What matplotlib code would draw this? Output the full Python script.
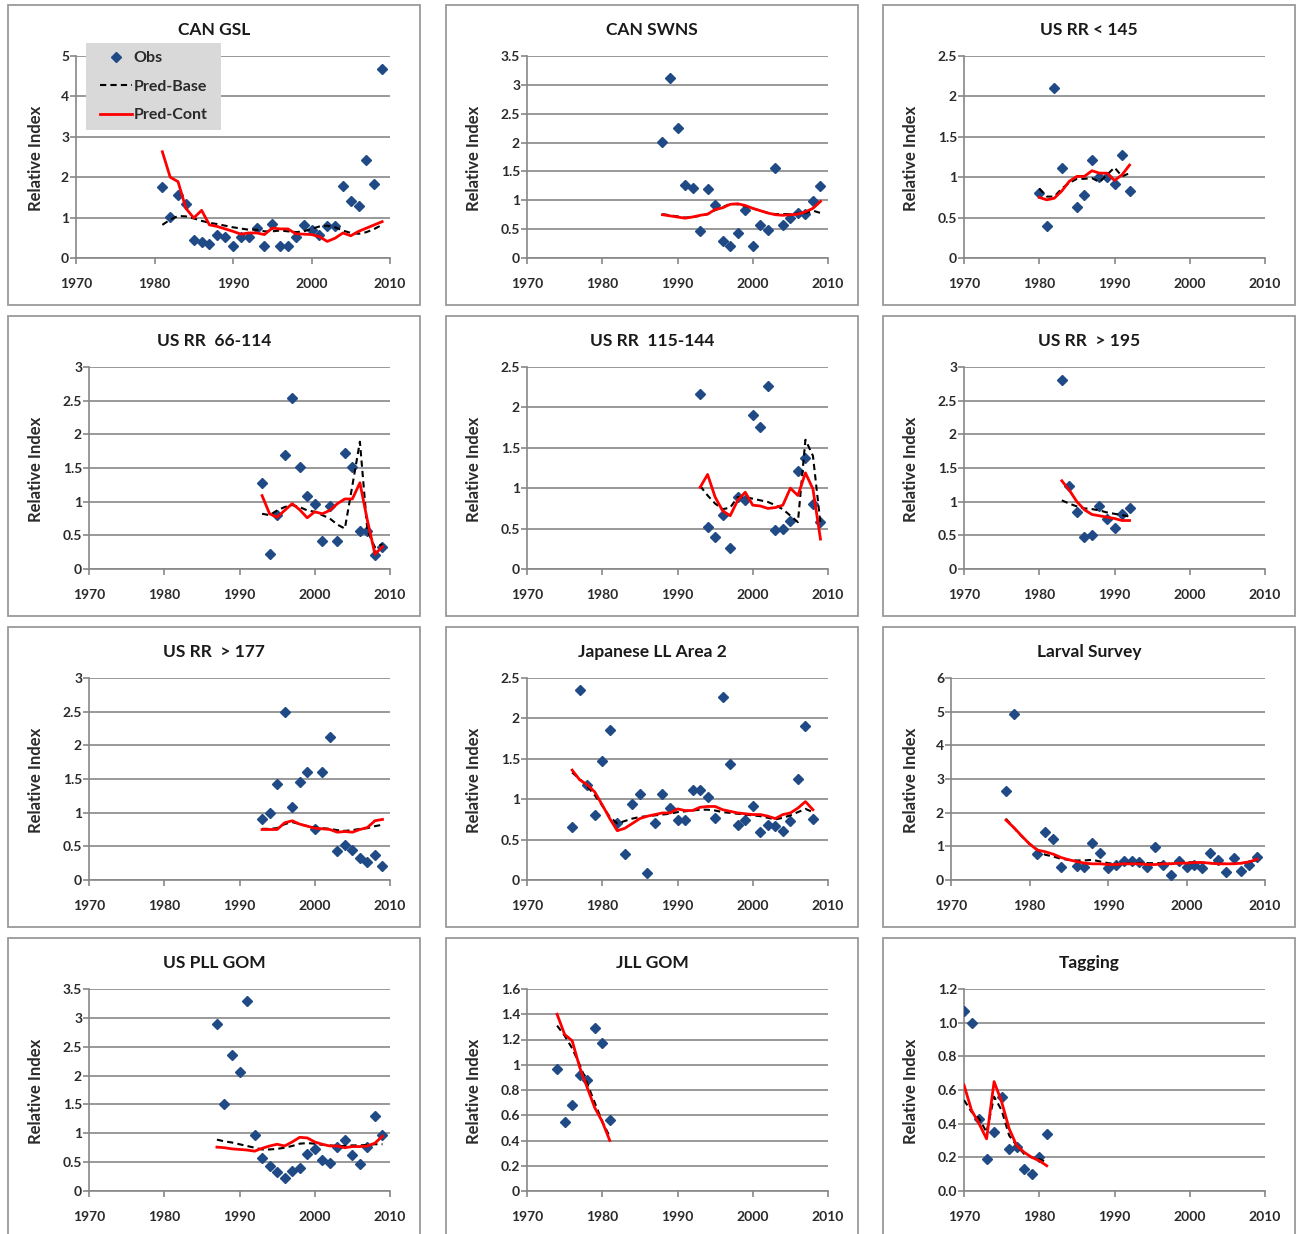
import numpy as np
import matplotlib
matplotlib.use("Agg")
import matplotlib.pyplot as plt
from matplotlib.patches import Rectangle
from matplotlib.lines import Line2D

plt.rcParams['font.family'] = ['Lato', 'DejaVu Sans']

# ---------------- data ----------------
gsl_years = list(range(1981, 2010))
gsl_obs = [1.76, 1.01, 1.55, 1.33, 0.45, 0.39, 0.35, 0.58, 0.53, 0.29, 0.53, 0.53, 0.74, 0.29, 0.85,
           0.29, 0.29, 0.51, 0.82, 0.70, 0.58, 0.78, 0.78, 1.77, 1.42, 1.29, 2.43, 1.83, 4.67]
gsl_base = [0.82, 0.95, 1.04, 1.03, 0.98, 0.92, 0.87, 0.84, 0.80, 0.76, 0.73, 0.70, 0.70, 0.66, 0.66,
            0.68, 0.66, 0.64, 0.66, 0.72, 0.78, 0.80, 0.76, 0.68, 0.62, 0.60, 0.64, 0.72, 0.82]
gsl_cont = [2.63, 2.00, 1.89, 1.23, 0.99, 1.18, 0.82, 0.78, 0.72, 0.66, 0.59, 0.62, 0.62, 0.58, 0.74,
            0.72, 0.72, 0.60, 0.59, 0.58, 0.53, 0.41, 0.49, 0.62, 0.55, 0.66, 0.74, 0.82, 0.90]

swns_years = list(range(1988, 2010))
swns_obs = [2.01, 3.12, 2.26, 1.27, 1.21, 0.47, 1.20, 0.91, 0.29, 0.20, 0.43, 0.84, 0.20, 0.57, 0.48,
            1.56, 0.57, 0.69, 0.78, 0.76, 0.98, 1.24]
swns_base = [0.76, 0.74, 0.72, 0.70, 0.71, 0.73, 0.76, 0.83, 0.88, 0.94, 0.93, 0.90, 0.86, 0.82, 0.78,
             0.76, 0.76, 0.76, 0.77, 0.78, 0.82, 0.78]
swns_cont = [0.75, 0.73, 0.71, 0.69, 0.71, 0.74, 0.76, 0.84, 0.87, 0.93, 0.94, 0.91, 0.86, 0.82, 0.78,
             0.75, 0.74, 0.75, 0.76, 0.80, 0.86, 0.98]

rr145_obs_years = [1980, 1981, 1982, 1983, 1985, 1986, 1987, 1988, 1989, 1990, 1991, 1992]
rr145_obs = [0.81, 0.40, 2.11, 1.12, 0.63, 0.78, 1.21, 1.00, 1.00, 0.91, 1.27, 0.83]
rr145_years = list(range(1980, 1993))
rr145_base = [0.86, 0.76, 0.76, 0.86, 0.93, 0.98, 0.98, 0.99, 0.94, 1.03, 1.12, 1.01, 1.05]
rr145_cont = [0.75, 0.72, 0.74, 0.83, 0.95, 1.01, 1.01, 1.08, 1.05, 1.05, 0.96, 1.03, 1.15]

rr66_years = list(range(1993, 2010))
rr66_obs = [1.27, 0.22, 0.80, 1.69, 2.54, 1.52, 1.08, 0.97, 0.41, 0.93, 0.41, 1.73, 1.52, 0.57, 0.57,
            0.21, 0.32]
rr66_base = [0.82, 0.80, 0.87, 0.92, 0.95, 0.92, 0.87, 0.85, 0.80, 0.75, 0.66, 0.60, 1.24, 1.89, 0.57,
             0.32, 0.37]
rr66_cont = [1.09, 0.82, 0.77, 0.87, 0.97, 0.88, 0.76, 0.85, 0.82, 0.87, 0.97, 1.04, 1.04, 1.28, 0.72,
             0.22, 0.33]

rr115_years = list(range(1993, 2010))
rr115_obs = [2.16, 0.52, 0.39, 0.67, 0.26, 0.89, 0.86, 1.91, 1.76, 2.26, 0.48, 0.50, 0.60, 1.21, 1.37,
             0.81, 0.58]
rr115_base = [1.03, 0.91, 0.81, 0.74, 0.76, 0.89, 0.89, 0.87, 0.85, 0.83, 0.79, 0.74, 0.66, 0.58, 1.60,
              1.40, 0.56]
rr115_cont = [1.01, 1.17, 0.89, 0.72, 0.66, 0.85, 0.95, 0.79, 0.78, 0.75, 0.76, 0.79, 1.00, 0.91, 1.19,
              0.99, 0.37]

rr195_years = list(range(1983, 1993))
rr195_obs = [2.81, 1.23, 0.85, 0.48, 0.51, 0.93, 0.75, 0.61, 0.81, 0.91]
rr195_base = [1.02, 0.97, 0.93, 0.90, 0.89, 0.87, 0.84, 0.82, 0.80, 0.78]
rr195_cont = [1.31, 1.17, 1.00, 0.88, 0.81, 0.79, 0.77, 0.75, 0.72, 0.72]

rr177_years = list(range(1993, 2010))
rr177_obs = [0.90, 1.00, 1.43, 2.50, 1.08, 1.46, 1.60, 0.76, 1.61, 2.12, 0.43, 0.52, 0.44, 0.32, 0.26,
             0.37, 0.21]
rr177_base = [0.76, 0.76, 0.77, 0.83, 0.86, 0.83, 0.80, 0.78, 0.77, 0.76, 0.74, 0.73, 0.74, 0.76, 0.77,
              0.80, 0.82]
rr177_cont = [0.75, 0.75, 0.75, 0.85, 0.88, 0.83, 0.80, 0.77, 0.76, 0.75, 0.71, 0.72, 0.71, 0.75, 0.78,
              0.88, 0.90]

jll2_years = list(range(1976, 2009))
jll2_obs = [0.65, 2.35, 1.17, 0.81, 1.47, 1.86, 0.70, 0.32, 0.94, 1.07, 0.09, 0.70, 1.07, 0.89, 0.74,
            0.74, 1.12, 1.11, 1.03, 0.77, 2.26, 1.43, 0.68, 0.74, 0.92, 0.59, 0.68, 0.67, 0.61, 0.73,
            1.25, 1.90, 0.75]
jll2_base = [1.33, 1.25, 1.16, 1.05, 0.92, 0.78, 0.70, 0.73, 0.76, 0.78, 0.79, 0.80, 0.81, 0.82, 0.84,
             0.85, 0.86, 0.87, 0.87, 0.86, 0.84, 0.83, 0.82, 0.81, 0.80, 0.79, 0.77, 0.75, 0.77, 0.80,
             0.84, 0.88, 0.84]
jll2_cont = [1.36, 1.24, 1.18, 1.09, 0.93, 0.76, 0.61, 0.64, 0.70, 0.76, 0.79, 0.81, 0.83, 0.83, 0.88,
             0.86, 0.86, 0.90, 0.91, 0.91, 0.87, 0.85, 0.83, 0.82, 0.81, 0.81, 0.79, 0.76, 0.81, 0.83,
             0.89, 0.97, 0.87]

larval_obs_years = [1977, 1978, 1981, 1982, 1983, 1984, 1986, 1987, 1988, 1989, 1990, 1991, 1992,
                    1993, 1994, 1995, 1996, 1997, 1998, 1999, 2000, 2001, 2002, 2003, 2004, 2005,
                    2006, 2007, 2008, 2009]
larval_obs = [2.65, 4.93, 0.77, 1.42, 1.22, 0.40, 0.43, 0.38, 1.09, 0.79, 0.36, 0.45, 0.55, 0.55, 0.52,
              0.38, 0.99, 0.45, 0.15, 0.55, 0.38, 0.45, 0.36, 0.80, 0.60, 0.25, 0.65, 0.28, 0.46, 0.69]
larval_years = list(range(1977, 2010))
larval_base = [1.82, 1.55, 1.30, 1.08, 0.90, 0.75, 0.70, 0.63, 0.60, 0.58, 0.58, 0.60, 0.55, 0.50,
               0.48, 0.48, 0.49, 0.50, 0.50, 0.50, 0.50, 0.48, 0.50, 0.52, 0.53, 0.52, 0.50, 0.49,
               0.48, 0.48, 0.50, 0.53, 0.60]
larval_cont = [1.78, 1.56, 1.31, 1.07, 0.89, 0.84, 0.77, 0.67, 0.60, 0.55, 0.50, 0.48, 0.48, 0.46,
               0.46, 0.48, 0.48, 0.48, 0.46, 0.46, 0.48, 0.48, 0.50, 0.50, 0.52, 0.52, 0.50, 0.48,
               0.48, 0.48, 0.50, 0.54, 0.62]

pll_years = list(range(1987, 2010))
pll_obs = [2.90, 1.51, 2.35, 2.06, 3.30, 0.97, 0.58, 0.43, 0.33, 0.23, 0.35, 0.40, 0.64, 0.73, 0.53,
           0.48, 0.77, 0.88, 0.63, 0.46, 0.77, 1.30, 0.97]
pll_base = [0.89, 0.86, 0.84, 0.81, 0.78, 0.75, 0.72, 0.72, 0.73, 0.75, 0.78, 0.82, 0.83, 0.82, 0.80,
            0.79, 0.78, 0.78, 0.79, 0.79, 0.80, 0.81, 0.81]
pll_cont = [0.76, 0.75, 0.73, 0.72, 0.71, 0.69, 0.74, 0.78, 0.81, 0.78, 0.85, 0.93, 0.92, 0.85, 0.81,
            0.78, 0.78, 0.75, 0.77, 0.77, 0.78, 0.83, 0.95]

jllgom_years = list(range(1974, 1982))
jllgom_obs = [0.97, 0.55, 0.68, 0.92, 0.88, 1.29, 1.17, 0.56]
jllgom_base = [1.31, 1.23, 1.13, 1.00, 0.85, 0.70, 0.55, 0.43]
jllgom_cont = [1.40, 1.24, 1.19, 0.98, 0.82, 0.66, 0.55, 0.40]

tag_years = list(range(1970, 1982))
tag_obs = [1.07, 1.00, 0.43, 0.19, 0.35, 0.56, 0.25, 0.26, 0.13, 0.10, 0.20, 0.34]
tag_base = [0.54, 0.47, 0.43, 0.35, 0.56, 0.48, 0.33, 0.27, 0.22, 0.20, 0.19, 0.17]
tag_cont = [0.63, 0.48, 0.40, 0.31, 0.65, 0.53, 0.37, 0.27, 0.23, 0.20, 0.18, 0.15]

titles = ["CAN GSL", "CAN SWNS", "US RR < 145",
          "US RR  66-114", "US RR  115-144", "US RR  > 195",
          "US RR  > 177", "Japanese LL Area 2", "Larval Survey",
          "US PLL GOM", "JLL GOM", "Tagging"]
x_ticks = [1970, 1980, 1990, 2000, 2010]
y_max = [5, 3.5, 2.5, 3, 2.5, 3, 3, 2.5, 6, 3.5, 1.6, 1.2]
y_step = [1, 0.5, 0.5, 0.5, 0.5, 0.5, 0.5, 0.5, 1, 0.5, 0.2, 0.2]

panels = [
    (gsl_years, gsl_obs, gsl_years, gsl_base, gsl_cont),
    (swns_years, swns_obs, swns_years, swns_base, swns_cont),
    (rr145_obs_years, rr145_obs, rr145_years, rr145_base, rr145_cont),
    (rr66_years, rr66_obs, rr66_years, rr66_base, rr66_cont),
    (rr115_years, rr115_obs, rr115_years, rr115_base, rr115_cont),
    (rr195_years, rr195_obs, rr195_years, rr195_base, rr195_cont),
    (rr177_years, rr177_obs, rr177_years, rr177_base, rr177_cont),
    (jll2_years, jll2_obs, jll2_years, jll2_base, jll2_cont),
    (larval_obs_years, larval_obs, larval_years, larval_base, larval_cont),
    (pll_years, pll_obs, pll_years, pll_base, pll_cont),
    (jllgom_years, jllgom_obs, jllgom_years, jllgom_base, jllgom_cont),
    (tag_years, tag_obs, tag_years, tag_base, tag_cont),
]

# ---------------- layout (pixel units) ----------------
W, H = 1296, 1234
fig = plt.figure(figsize=(W / 100, H / 100), dpi=100)
fig.patch.set_facecolor("white")

col_x = [8, 446, 883]
row_y = [5, 316, 627, 938]
BOX_W, BOX_H = 412, 300
GRID = "#878787"
OBS_C = "#1f4a85"
TXT = "#2a2a2a"
DASH = (0, (3.0, 2.0))


def frect(x, y, w, h):
    return [x / W, 1 - (y + h) / H, w / W, h / H]


for i, (oy, ov, py, pb, pc) in enumerate(panels):
    bx = col_x[i % 3]
    by = row_y[i // 3]
    fig.patches.append(Rectangle((bx / W, 1 - (by + BOX_H) / H), BOX_W / W, BOX_H / H,
                                 transform=fig.transFigure, fill=False,
                                 edgecolor="#9a9a9a", lw=1.3, zorder=0))
    left = 68 if y_max[i] in (5, 6) else 81
    ax = fig.add_axes(frect(bx + left, by + 51, 382 - left, 202))

    ax.plot(oy, ov, linestyle="none", marker="D", markersize=5.2,
            color=OBS_C, zorder=3, label="Obs")
    ax.plot(py, pb, linestyle=DASH, color="black", lw=1.5, zorder=4,
            label="Pred-Base")
    ax.plot(py, pc, color="#ff0000", lw=2.0, zorder=5, label="Pred-Cont")

    ax.set_xlim(1970, 2010)
    ax.set_ylim(0, y_max[i])
    ax.set_xticks(x_ticks)
    yt = np.round(np.arange(0, y_max[i] + y_step[i] / 2, y_step[i]), 2)
    ax.set_yticks(yt)
    if titles[i] == "Tagging":
        ax.set_yticklabels([f"{v:.1f}" for v in yt])
    else:
        ax.set_yticklabels([f"{v:g}" for v in yt])
    ax.grid(axis="y", color=GRID, lw=1.2)
    ax.set_axisbelow(True)
    for s in ("top", "right"):
        ax.spines[s].set_visible(False)
    for s in ("left", "bottom"):
        ax.spines[s].set_color(GRID)
        ax.spines[s].set_linewidth(1.2)
    ax.tick_params(axis="both", length=4.5, width=1.2, color=GRID,
                   labelsize=10, labelcolor=TXT)
    ax.tick_params(axis="y", pad=0.5)
    ax.tick_params(axis="x", pad=10)
    for lab in ax.get_xticklabels() + ax.get_yticklabels():
        lab.set_fontweight("bold")

    fig.text((bx + 206) / W, 1 - (by + 25) / H, titles[i], ha="center", va="center",
             fontsize=12.5, fontweight="bold", color="#1a1a1a")
    fig.text((bx + 28) / W, 1 - (by + 153) / H, "Relative Index", rotation=90,
             ha="center", va="center", fontsize=12, fontweight="bold", color=TXT)

# legend of the first panel
fig.patches.append(Rectangle((86 / W, 1 - 130 / H), 135 / W, 87 / H,
                             transform=fig.transFigure, facecolor="#d9d9d9",
                             edgecolor="none", zorder=1))
handles = [
    Line2D([], [], linestyle="none", marker="D", markersize=5.2, color=OBS_C),
    Line2D([], [], linestyle=DASH, color="black", lw=1.5),
    Line2D([], [], color="#ff0000", lw=2.0),
]
leg = fig.legend(handles, ["Obs", "Pred-Base", "Pred-Cont"],
                 loc="upper left", bbox_to_anchor=(100 / W, 1 - 51 / H),
                 bbox_transform=fig.transFigure, frameon=False,
                 borderpad=0, borderaxespad=0, handlelength=2.0,
                 handletextpad=0.1, labelspacing=0.9,
                 prop={"size": 11.5, "weight": "bold"})
for t in leg.get_texts():
    t.set_color(TXT)

fig.savefig("out.png", dpi=100, facecolor="white")
